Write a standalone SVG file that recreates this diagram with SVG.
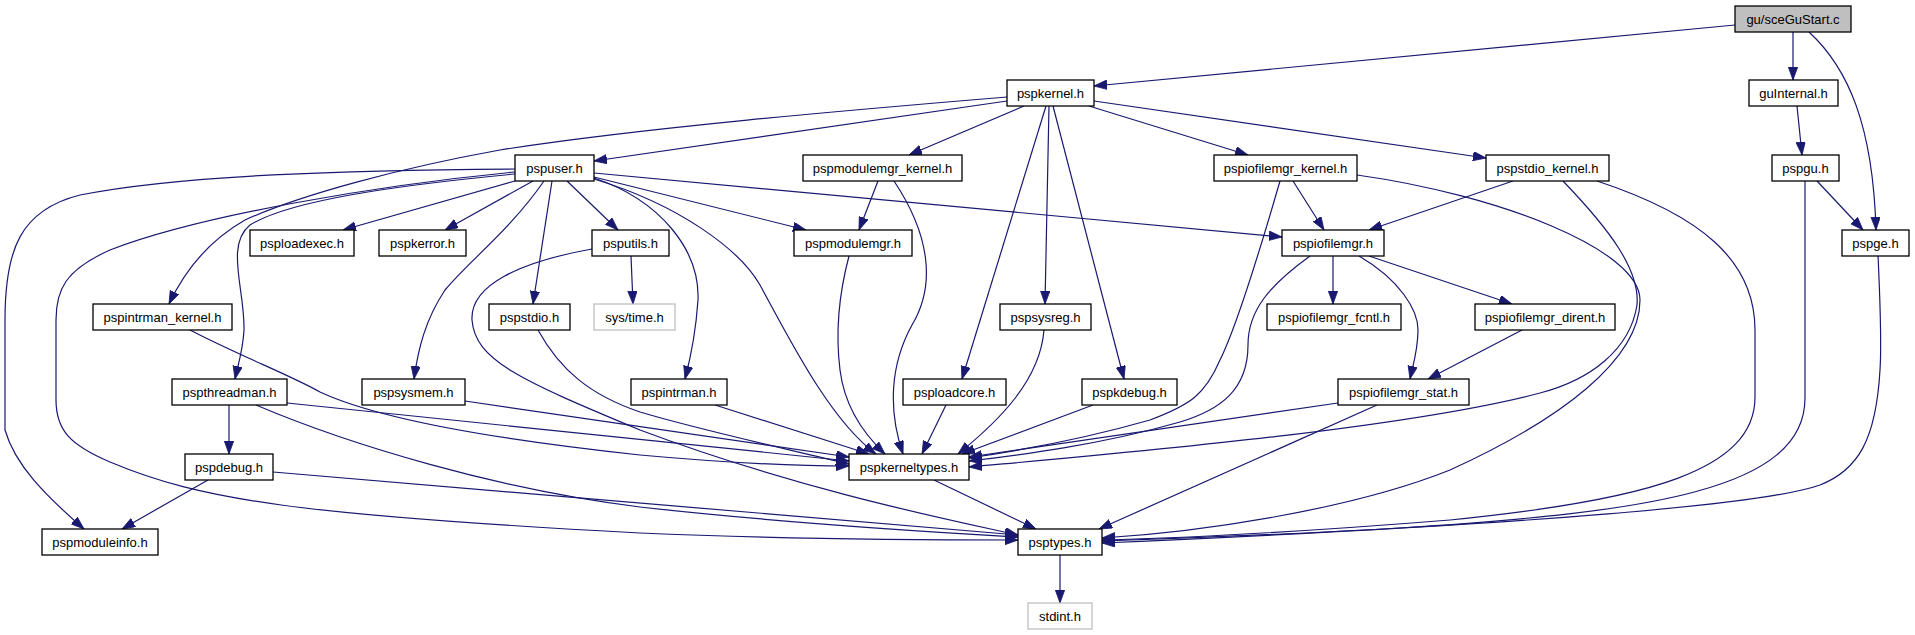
<svg xmlns="http://www.w3.org/2000/svg" width="1915" height="635" viewBox="0 0 1915 635">
<style>
.node rect{fill:#ffffff;stroke:#000000;stroke-width:1.3}
.root rect{fill:#bfbfbf}
.ext rect{stroke:#bfbfbf}
.node text{font-family:"Liberation Sans",Arial,sans-serif;font-size:13px;fill:#000000;text-anchor:middle}
.edges path{fill:none;stroke:#191970;stroke-width:1.2;marker-end:url(#arr)}
</style>
<defs>
<marker id="arr" markerUnits="userSpaceOnUse" markerWidth="14" markerHeight="10" refX="13" refY="4.7" orient="auto">
<path d="M0,0 L13,4.7 L0,9.4 Z" fill="#191970" stroke="#191970" stroke-width="0.8"/>
</marker>
</defs>
<rect x="0" y="0" width="1915" height="635" fill="#ffffff"/>
<g id="edges" class="edges">
<path d="M1735,25 L1094,86"/>
<path d="M1793,32 L1793,80"/>
<path d="M1809,32 C1848,68 1873,125 1876,230"/>
<path d="M1797,106 L1802,155"/>
<path d="M1817,181 L1863,230"/>
<path d="M1805,181 L1805,398 C1805,490 1650,512 1400,528 C1280,535 1160,539 1102,541"/>
<path d="M1878,255 C1880,300 1882,340 1880,370 C1876,440 1858,470 1820,485 C1750,510 1400,530 1102,543"/>
<path d="M1597,181 C1700,215 1755,260 1755,330 L1755,397 C1755,470 1650,500 1450,520 C1300,532 1180,538 1102,540"/>
<path d="M1357,175 C1500,195 1640,250 1640,300 C1640,360 1560,420 1450,470 C1350,510 1200,532 1102,538"/>
<path d="M1563,181 C1610,230 1640,270 1637,305 C1630,350 1590,380 1540,393 C1400,430 1100,455 969,467"/>
<path d="M1310,256 C1270,285 1248,310 1248,345 C1248,390 1220,410 1180,422 C1100,445 1020,455 969,461"/>
<path d="M1280,181 C1260,250 1235,330 1220,360 C1205,395 1190,405 1150,420 C1080,440 1010,452 969,458"/>
<path d="M1044,330 C1040,380 1000,420 958,454"/>
<path d="M1093,405 L962,454"/>
<path d="M946,405 L922,454"/>
<path d="M894,181 C930,235 936,285 912,325 C890,365 888,410 903,454"/>
<path d="M849,256 C840,290 835,330 840,370 C845,410 868,438 885,454"/>
<path d="M594,179 C680,205 740,250 760,285 C790,340 830,420 876,454"/>
<path d="M594,178 C660,200 700,250 698,300 C696,330 690,360 685,379"/>
<path d="M594,177 L806,230"/>
<path d="M594,173 L1282,237"/>
<path d="M515,181 L343,230"/>
<path d="M533,181 L445,230"/>
<path d="M567,181 L618,230"/>
<path d="M552,181 L533,304"/>
<path d="M544,181 C510,230 470,260 445,290 C425,320 418,350 414,379"/>
<path d="M515,174 C400,185 290,200 250,225 C225,245 245,290 244,330 C243,350 238,365 235,379"/>
<path d="M1007,97 C850,110 640,128 500,150 C400,168 300,195 245,220 C210,240 185,270 169,304"/>
<path d="M1007,101 L594,161"/>
<path d="M1024,106 L909,155"/>
<path d="M1089,106 L1248,155"/>
<path d="M1094,101 L1486,158"/>
<path d="M1046,106 L962,379"/>
<path d="M1049,106 L1045,304"/>
<path d="M1053,106 L1124,379"/>
<path d="M878,181 L859,230"/>
<path d="M1293,181 L1324,230"/>
<path d="M1513,181 L1369,230"/>
<path d="M1333,256 L1333,304"/>
<path d="M1369,256 L1512,304"/>
<path d="M1359,256 C1400,280 1418,310 1418,330 C1418,350 1413,365 1410,379"/>
<path d="M1522,330 L1428,379"/>
<path d="M1338,403 L969,457"/>
<path d="M1377,405 L1099,529"/>
<path d="M1060,555 L1060,603"/>
<path d="M934,480 L1036,529"/>
<path d="M631,256 L633,304"/>
<path d="M592,249 C520,262 470,285 472,320 C475,360 520,380 640,430 C800,490 950,520 1018,535"/>
<path d="M538,330 C560,370 590,395 640,412 C700,430 800,452 849,464"/>
<path d="M190,330 C240,356 290,375 320,392 C380,420 500,440 640,455 C750,465 810,466 849,466"/>
<path d="M287,403 L849,461"/>
<path d="M465,401 L849,457"/>
<path d="M715,405 L869,454"/>
<path d="M256,405 C350,445 500,490 640,507 C800,525 950,533 1018,537"/>
<path d="M273,472 L1018,535"/>
<path d="M208,480 L122,529"/>
<path d="M229,405 L229,454"/>
<path d="M515,169 C350,170 180,175 80,195 C20,210 5,250 5,320 L5,430 C15,465 45,495 84,529"/>
<path d="M515,172 C380,185 200,215 110,250 C65,270 56,290 56,320 L56,400 C56,430 70,445 110,462 C200,500 300,515 640,533 C800,540 950,540 1018,540"/>
</g>
<g id="n_root" class="node root"><rect x="1735" y="6" width="116" height="26"/><text x="1793" y="23.5">gu/sceGuStart.c</text></g>
<g id="n_guInternal" class="node"><rect x="1749" y="80" width="89" height="26"/><text x="1793.5" y="97.5">guInternal.h</text></g>
<g id="n_pspkernel" class="node"><rect x="1007" y="80" width="87" height="26"/><text x="1050.5" y="97.5">pspkernel.h</text></g>
<g id="n_pspuser" class="node"><rect x="515" y="155" width="79" height="26"/><text x="554.5" y="172.5">pspuser.h</text></g>
<g id="n_pspmodulemgr_kernel" class="node"><rect x="803" y="155" width="159" height="26"/><text x="882.5" y="172.5">pspmodulemgr_kernel.h</text></g>
<g id="n_pspiofilemgr_kernel" class="node"><rect x="1214" y="155" width="143" height="26"/><text x="1285.5" y="172.5">pspiofilemgr_kernel.h</text></g>
<g id="n_pspstdio_kernel" class="node"><rect x="1486" y="155" width="123" height="26"/><text x="1547.5" y="172.5">pspstdio_kernel.h</text></g>
<g id="n_pspgu" class="node"><rect x="1772" y="155" width="67" height="26"/><text x="1805.5" y="172.5">pspgu.h</text></g>
<g id="n_psploadexec" class="node"><rect x="250" y="230" width="104" height="26"/><text x="302" y="247.5">psploadexec.h</text></g>
<g id="n_pspkerror" class="node"><rect x="379" y="230" width="87" height="26"/><text x="422.5" y="247.5">pspkerror.h</text></g>
<g id="n_psputils" class="node"><rect x="592" y="230" width="77" height="26"/><text x="630.5" y="247.5">psputils.h</text></g>
<g id="n_pspmodulemgr" class="node"><rect x="794" y="230" width="118" height="26"/><text x="853" y="247.5">pspmodulemgr.h</text></g>
<g id="n_pspiofilemgr" class="node"><rect x="1282" y="230" width="102" height="26"/><text x="1333" y="247.5">pspiofilemgr.h</text></g>
<g id="n_pspge" class="node"><rect x="1842" y="230" width="67" height="26"/><text x="1875.5" y="247.5">pspge.h</text></g>
<g id="n_pspintrman_kernel" class="node"><rect x="93" y="304" width="139" height="26"/><text x="162.5" y="321.5">pspintrman_kernel.h</text></g>
<g id="n_pspstdio" class="node"><rect x="489" y="304" width="81" height="26"/><text x="529.5" y="321.5">pspstdio.h</text></g>
<g id="n_systime" class="node ext"><rect x="594" y="304" width="81" height="26"/><text x="634.5" y="321.5">sys/time.h</text></g>
<g id="n_pspsysreg" class="node"><rect x="1000" y="304" width="91" height="26"/><text x="1045.5" y="321.5">pspsysreg.h</text></g>
<g id="n_pspiofilemgr_fcntl" class="node"><rect x="1267" y="304" width="134" height="26"/><text x="1334" y="321.5">pspiofilemgr_fcntl.h</text></g>
<g id="n_pspiofilemgr_dirent" class="node"><rect x="1475" y="304" width="140" height="26"/><text x="1545" y="321.5">pspiofilemgr_dirent.h</text></g>
<g id="n_pspthreadman" class="node"><rect x="172" y="379" width="115" height="26"/><text x="229.5" y="396.5">pspthreadman.h</text></g>
<g id="n_pspsysmem" class="node"><rect x="362" y="379" width="103" height="26"/><text x="413.5" y="396.5">pspsysmem.h</text></g>
<g id="n_pspintrman" class="node"><rect x="631" y="379" width="96" height="26"/><text x="679" y="396.5">pspintrman.h</text></g>
<g id="n_psploadcore" class="node"><rect x="903" y="379" width="103" height="26"/><text x="954.5" y="396.5">psploadcore.h</text></g>
<g id="n_pspkdebug" class="node"><rect x="1082" y="379" width="95" height="26"/><text x="1129.5" y="396.5">pspkdebug.h</text></g>
<g id="n_pspiofilemgr_stat" class="node"><rect x="1338" y="379" width="131" height="26"/><text x="1403.5" y="396.5">pspiofilemgr_stat.h</text></g>
<g id="n_pspdebug" class="node"><rect x="185" y="454" width="88" height="26"/><text x="229" y="471.5">pspdebug.h</text></g>
<g id="n_pspkerneltypes" class="node"><rect x="849" y="454" width="120" height="26"/><text x="909" y="471.5">pspkerneltypes.h</text></g>
<g id="n_pspmoduleinfo" class="node"><rect x="42" y="529" width="116" height="26"/><text x="100" y="546.5">pspmoduleinfo.h</text></g>
<g id="n_psptypes" class="node"><rect x="1018" y="529" width="84" height="26"/><text x="1060" y="546.5">psptypes.h</text></g>
<g id="n_stdint" class="node ext"><rect x="1028" y="603" width="64" height="26"/><text x="1060" y="620.5">stdint.h</text></g>
</svg>
